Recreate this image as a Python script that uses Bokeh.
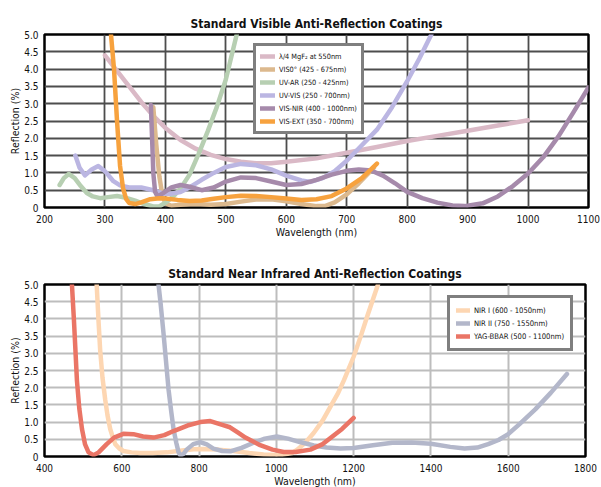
from bokeh.plotting import figure
from bokeh.layouts import column
from bokeh.models import FixedTicker, Legend, LegendItem, NumeralTickFormatter
from bokeh.embed import file_html
from bokeh.resources import INLINE

FONT = "DejaVu Sans Condensed"

# ---------------- Visible chart data ----------------
mgf2_x = [300, 320, 340, 360, 380, 400, 425, 450, 475, 500, 525, 550, 575, 600, 650, 700, 750, 800, 850, 900, 950, 1000]
mgf2_y = [4.4, 3.95, 3.5, 3.05, 2.65, 2.3, 1.95, 1.7, 1.52, 1.4, 1.32, 1.28, 1.28, 1.32, 1.42, 1.58, 1.75, 1.92, 2.07, 2.22, 2.37, 2.52]

vis0_x = [380, 385, 390, 395, 400, 410, 425, 450, 475, 500, 525, 550, 575, 600, 625, 650, 665, 680, 700, 720, 745]
vis0_y = [2.9, 1.8, 0.9, 0.35, 0.12, 0.05, 0.08, 0.1, 0.08, 0.1, 0.17, 0.23, 0.24, 0.18, 0.1, 0.04, 0.05, 0.15, 0.38, 0.7, 1.15]

uvar_x = [225, 232, 240, 250, 260, 270, 280, 292, 305, 320, 335, 350, 365, 380, 390, 400, 412, 425, 440, 455, 470, 485, 500, 518]
uvar_y = [0.65, 0.85, 0.97, 0.85, 0.62, 0.42, 0.32, 0.27, 0.3, 0.33, 0.28, 0.2, 0.1, 0.03, 0.03, 0.14, 0.3, 0.55, 0.95, 1.55, 2.2, 2.9, 3.7, 5.0]

uvvis_x = [251, 258, 267, 278, 289, 300, 314, 325, 340, 360, 380, 397, 410, 425, 440, 460, 480, 500, 525, 550, 575, 600, 625, 640, 660, 680, 700, 725, 750, 775, 800, 820, 840]
uvvis_y = [1.5, 1.15, 0.93, 1.1, 1.2, 1.05, 0.76, 0.64, 0.58, 0.58, 0.5, 0.4, 0.4, 0.45, 0.58, 0.8, 1.0, 1.17, 1.26, 1.22, 1.1, 0.92, 0.78, 0.74, 0.85, 1.05, 1.35, 1.8, 2.25, 2.9, 3.65, 4.3, 5.0]

visnir_x = [376, 378, 380, 383, 387, 395, 410, 425, 440, 460, 480, 500, 525, 550, 575, 600, 625, 650, 675, 700, 720, 740, 760, 780, 800, 825, 850, 875, 895, 925, 950, 975, 1000, 1025, 1050, 1075, 1100]
visnir_y = [2.96, 2.0, 1.0, 0.45, 0.32, 0.4, 0.58, 0.65, 0.6, 0.5, 0.58, 0.75, 0.87, 0.85, 0.75, 0.65, 0.68, 0.8, 0.95, 1.06, 1.1, 1.07, 0.92, 0.7, 0.45, 0.27, 0.14, 0.06, 0.04, 0.12, 0.32, 0.62, 0.98, 1.45, 2.05, 2.75, 3.47]

visext_x = [310, 315, 320, 325, 330, 335, 340, 350, 360, 375, 390, 400, 420, 440, 460, 480, 500, 525, 550, 575, 600, 625, 650, 675, 700, 725, 750]
visext_y = [5.0, 4.0, 2.5, 1.2, 0.55, 0.25, 0.13, 0.1, 0.15, 0.24, 0.27, 0.26, 0.22, 0.19, 0.2, 0.25, 0.3, 0.34, 0.33, 0.3, 0.26, 0.22, 0.24, 0.33, 0.55, 0.85, 1.27]

vis_labels = ["\u03bb/4 MgF\u2082 at 550nm", "VIS0\u00b0 (425 - 675nm)", "UV-AR (250 - 425nm)",
              "UV-VIS (250 - 700nm)", "VIS-NIR (400 - 1000nm)", "VIS-EXT (350 - 700nm)"]
vis_colors = ["#dab9c6", "#dcb98e", "#b7cfb2", "#bbb6e2", "#a68aab", "#f7a23e"]

# ---------------- Near infrared chart data ----------------
nir1_x = [535, 540, 544, 550, 557, 563, 570, 577, 583, 593, 604, 625, 648, 680, 717, 750, 786, 810, 850, 889, 930, 967, 1010, 1040, 1054, 1075, 1097, 1120, 1140, 1160, 1175, 1200, 1220, 1235, 1263]
nir1_y = [5.0, 3.9, 3.1, 2.3, 1.66, 1.2, 0.8, 0.55, 0.36, 0.24, 0.16, 0.12, 0.1, 0.1, 0.12, 0.17, 0.21, 0.22, 0.2, 0.16, 0.1, 0.06, 0.04, 0.1, 0.2, 0.4, 0.69, 1.05, 1.45, 1.85, 2.22, 2.9, 3.55, 4.07, 5.0]

nir2_x = [695, 700, 708, 715, 721, 728, 734, 741, 747, 752, 760, 768, 785, 803, 820, 837, 860, 881, 910, 941, 970, 1001, 1030, 1061, 1097, 1130, 1166, 1200, 1250, 1300, 1350, 1400, 1450, 1487, 1520, 1548, 1575, 1600, 1630, 1670, 1710, 1752]
nir2_y = [5.0, 4.5, 3.58, 2.7, 1.95, 1.3, 0.79, 0.4, 0.12, 0.03, 0.08, 0.2, 0.36, 0.42, 0.35, 0.23, 0.16, 0.15, 0.25, 0.4, 0.52, 0.58, 0.52, 0.42, 0.32, 0.26, 0.23, 0.25, 0.33, 0.4, 0.41, 0.37, 0.28, 0.23, 0.26, 0.36, 0.48, 0.65, 0.95, 1.37, 1.85, 2.4]

yag_x = [471, 476, 484, 490, 497, 505, 514, 527, 540, 561, 580, 604, 630, 655, 682, 710, 734, 770, 803, 829, 860, 880, 900, 920, 958, 990, 1019, 1050, 1088, 1120, 1140, 1170, 1200]
yag_y = [5.0, 4.0, 2.2, 1.4, 0.8, 0.35, 0.12, 0.04, 0.12, 0.36, 0.55, 0.66, 0.65, 0.58, 0.55, 0.62, 0.74, 0.9, 1.0, 1.03, 0.92, 0.85, 0.7, 0.55, 0.33, 0.2, 0.13, 0.13, 0.2, 0.36, 0.54, 0.8, 1.12]

nir_labels = ["NIR I (600 - 1050nm)", "NIR II (750 - 1550nm)", "YAG-BBAR (500 - 1100nm)"]
nir_colors = ["#fdd6b2", "#b3b7ca", "#ea7566"]

y_ticks = [0, 0.5, 1.0, 1.5, 2.0, 2.5, 3.0, 3.5, 4.0, 4.5, 5.0]
vis_x_ticks = [200, 300, 400, 500, 600, 700, 800, 900, 1000, 1100]
nir_x_ticks = [400, 600, 800, 1000, 1200, 1400, 1600, 1800]


def make_fig(title, xr, xticks, fw, fh, grid_color, grid_width, top, bottom, right):
    p = figure(frame_width=fw, frame_height=fh, x_range=xr, y_range=(0, 5.0),
               output_backend="svg", toolbar_location=None,
               min_border_left=44, min_border_right=right,
               min_border_top=top, min_border_bottom=bottom)
    p.title.text = title
    p.title.align = "center"
    p.title.text_font = FONT
    p.title.text_font_size = "12px"
    p.title.text_font_style = "bold"
    p.title.text_color = "#111111"
    p.title.standoff = 8
    p.outline_line_color = "black"
    p.outline_line_width = 2.5
    p.background_fill_color = "white"
    p.border_fill_color = "white"
    for ax in (p.xaxis[0], p.yaxis[0]):
        ax.axis_line_color = None
        ax.major_tick_line_color = None
        ax.minor_tick_line_color = None
        ax.major_label_text_font = FONT
        ax.major_label_text_font_size = "10px"
        ax.major_label_text_color = "#111111"
        ax.axis_label_text_font = FONT
        ax.axis_label_text_font_size = "10.5px"
        ax.axis_label_text_font_style = "normal"
        ax.axis_label_text_color = "#111111"
    p.xaxis.major_label_standoff = 1
    p.yaxis.major_label_standoff = 0
    p.xaxis.ticker = FixedTicker(ticks=xticks)
    p.yaxis.ticker = FixedTicker(ticks=y_ticks)
    p.yaxis.formatter = NumeralTickFormatter(format="0.0")
    p.yaxis.major_label_overrides = {0: "0"}
    p.xaxis.axis_label = "Wavelength (nm)"
    p.yaxis.axis_label = "Reflection (%)"
    p.xaxis.axis_label_standoff = 0
    p.yaxis.axis_label_standoff = 0
    p.xgrid.ticker = FixedTicker(ticks=xticks)
    p.ygrid.ticker = FixedTicker(ticks=y_ticks)
    p.grid.grid_line_color = grid_color
    p.grid.grid_line_width = grid_width
    return p


# ---------------- Top chart ----------------
p1 = make_fig("Standard Visible Anti-Reflection Coatings", (200, 1100), vis_x_ticks,
              544, 173, "#4d4d4d", 1.8, 34, 36, 13)
vis_series = [(mgf2_x, mgf2_y), (vis0_x, vis0_y), (uvar_x, uvar_y),
              (uvvis_x, uvvis_y), (visnir_x, visnir_y), (visext_x, visext_y)]
items1 = []
for (xs, ys), lab, col in zip(vis_series, vis_labels, vis_colors):
    r = p1.line(xs, ys, line_color=col, line_width=4.5, line_cap="round", line_join="round")
    items1.append(LegendItem(label=lab, renderers=[r]))

leg1 = Legend(items=items1, location=(209, 73), border_line_color="black",
              border_line_width=3, padding=4, spacing=1, margin=0,
              glyph_width=15, glyph_height=12, label_height=12, label_standoff=4,
              label_text_font=FONT, label_text_font_size="7.3px", label_text_color="#111111",
              background_fill_alpha=1.0)
p1.add_layout(leg1, "center")

# ---------------- Bottom chart ----------------
p2 = make_fig("Standard Near Infrared Anti-Reflection Coatings", (400, 1800), nir_x_ticks,
              541, 172, "#bdbdbd", 2, 41, 30, 16)
nir_series = [(nir1_x, nir1_y), (nir2_x, nir2_y), (yag_x, yag_y)]
items2 = []
for (xs, ys), lab, col in zip(nir_series, nir_labels, nir_colors):
    r = p2.line(xs, ys, line_color=col, line_width=4.5, line_cap="round", line_join="round")
    items2.append(LegendItem(label=lab, renderers=[r]))

leg2 = Legend(items=items2, location=(403, 105), border_line_color="black",
              border_line_width=3, padding=6, spacing=1, margin=0,
              glyph_width=14, glyph_height=12, label_height=12, label_standoff=4,
              label_text_font=FONT, label_text_font_size="7.6px", label_text_color="#111111",
              background_fill_alpha=1.0)
p2.add_layout(leg2, "center")

layout = column(p1, p2, spacing=0)
open("out.html", "w").write(file_html(layout, INLINE))
